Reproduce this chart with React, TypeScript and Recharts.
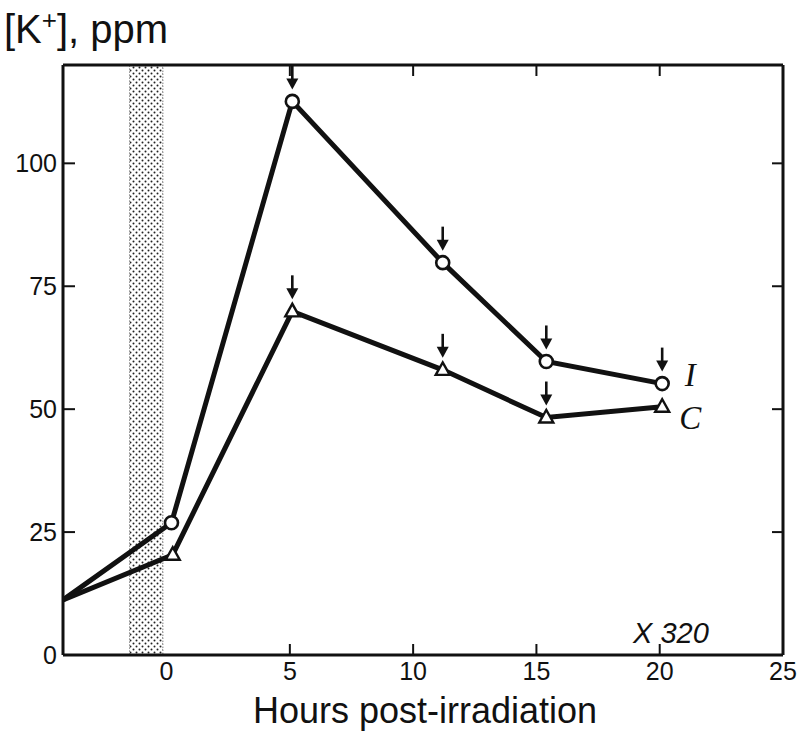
import React from "react";
import {
  LineChart,
  Line,
  XAxis,
  YAxis,
  ReferenceArea,
} from "recharts";

// hours post-irradiation
const iHours = [-4.2, 0.2, 5.1, 11.2, 15.4, 20.1];
const iValues = [11.2, 26.9, 112.6, 79.8, 59.7, 55.2];
const iArrows = [false, false, true, true, true, true];

const cHours = [-4.2, 0.25, 5.1, 11.2, 15.4, 20.1];
const cValues = [11.2, 20.4, 69.9, 58.0, 48.3, 50.5];
const cArrows = [false, false, true, true, true, false];

const xTicks = [0, 5, 10, 15, 20, 25];
const yTicks = [0, 25, 50, 75, 100];
const irradiation = [-1.5, -0.15];

const iData = iHours.map((h, i) => ({ h, v: iValues[i], arrow: iArrows[i] }));
const cData = cHours.map((h, i) => ({ h, v: cValues[i], arrow: cArrows[i] }));

const INK = "#111";
const LABEL_FONT = "'Liberation Sans', Arial, sans-serif";

function Arrow({ x, y }: { x: number; y: number }) {
  // down arrow, tip at y
  return (
    <g>
      <line x1={x} y1={y - 24} x2={x} y2={y - 9} stroke={INK} strokeWidth={2.6} />
      <polygon points={`${x - 6},${y - 11} ${x + 6},${y - 11} ${x},${y}`} fill={INK} />
    </g>
  );
}

function makeDot(kind: "circle" | "triangle", endLabel: string) {
  return (props: any) => {
    const { cx, cy, index, payload } = props;
    if (index === 0 || cx == null) return <g key={`d-${kind}-${index}`} />;
    const last = index === iData.length - 1;
    return (
      <g key={`d-${kind}-${index}`}>
        {kind === "circle" ? (
          <circle cx={cx} cy={cy} r={6.5} fill="#fff" stroke={INK} strokeWidth={2.6} />
        ) : (
          <polygon
            points={`${cx - 7},${cy + 5} ${cx + 7},${cy + 5} ${cx},${cy - 7.5}`}
            fill="#fff"
            stroke={INK}
            strokeWidth={2.4}
            strokeLinejoin="miter"
          />
        )}
        {payload.arrow && <Arrow x={cx} y={cy - 12} />}
        {last && (
          <text
            x={cx + 28}
            y={kind === "circle" ? cy - 9 : cy + 11}
            textAnchor="middle"
            dominantBaseline="central"
            fontFamily="'Liberation Serif', serif"
            fontStyle="italic"
            fontSize={33}
            fill={INK}
          >
            {endLabel}
          </text>
        )}
      </g>
    );
  };
}

const tickDrawn = (v: number) => v !== 0 && v !== 25;
const yTickDrawn = (v: number) => v !== 0;

function BottomTick(props: any) {
  const { x, y, payload } = props;
  const v = payload.value;
  return (
    <g>
      {tickDrawn(v) && <line x1={x} y1={y} x2={x} y2={y - 11} stroke={INK} strokeWidth={2} />}
      <text x={x} y={y + 25} textAnchor="middle" fontFamily={LABEL_FONT} fontSize={25} fill={INK}>
        {v}
      </text>
    </g>
  );
}

function TopTick(props: any) {
  const { x, y, payload } = props;
  if (!tickDrawn(payload.value)) return <g />;
  return <line x1={x} y1={y} x2={x} y2={y + 11} stroke={INK} strokeWidth={2} />;
}

function LeftTick(props: any) {
  const { x, y, payload } = props;
  const v = payload.value;
  return (
    <g>
      {yTickDrawn(v) && <line x1={x} y1={y} x2={x + 12} y2={y} stroke={INK} strokeWidth={2} />}
      <text
        x={x - 6}
        y={y}
        textAnchor="end"
        dominantBaseline="central"
        fontFamily={LABEL_FONT}
        fontSize={25}
        fill={INK}
      >
        {v}
      </text>
    </g>
  );
}

function RightTick(props: any) {
  const { x, y, payload } = props;
  if (!yTickDrawn(payload.value)) return <g />;
  return <line x1={x} y1={y} x2={x - 11} y2={y} stroke={INK} strokeWidth={2} />;
}

const axisLine = { stroke: INK, strokeWidth: 3 };

export default function App() {
  return (
    <div style={{ position: "absolute", left: 0, top: 0, width: 804, height: 739, background: "#fff" }}>
      <div
        style={{
          position: "absolute",
          left: 4,
          top: 5,
          fontFamily: LABEL_FONT,
          fontSize: 40,
          color: INK,
          whiteSpace: "nowrap",
        }}
      >
        [K<sup style={{ fontSize: 26, verticalAlign: "0.55em" }}>+</sup>], ppm
      </div>
      <LineChart
        width={804}
        height={739}
        margin={{ top: 64, right: 20, bottom: 83, left: 62 }}
      >
        <defs>
          <pattern id="stipple" width="6" height="6" patternUnits="userSpaceOnUse">
            <rect width="6" height="6" fill="#fff" />
            <circle cx="1.5" cy="1.5" r="1" fill="#222" />
            <circle cx="4.5" cy="4.5" r="1" fill="#222" />
          </pattern>
        </defs>
        <XAxis
          dataKey="h"
          type="number"
          domain={[-4.2, 25]}
          ticks={xTicks}
          allowDataOverflow
          height={1}
          tickSize={0}
          tickMargin={0}
          tickLine={false}
          axisLine={axisLine}
          tick={<BottomTick />}
          interval={0}
        />
        <XAxis
          xAxisId="top"
          orientation="top"
          dataKey="h"
          type="number"
          domain={[-4.2, 25]}
          ticks={xTicks}
          allowDataOverflow
          height={1}
          tickSize={0}
          tickMargin={0}
          tickLine={false}
          axisLine={axisLine}
          tick={<TopTick />}
          interval={0}
        />
        <YAxis
          type="number"
          domain={[0, 120]}
          ticks={yTicks}
          allowDataOverflow
          width={1}
          tickSize={0}
          tickMargin={0}
          tickLine={false}
          axisLine={axisLine}
          tick={<LeftTick />}
          interval={0}
        />
        <YAxis
          yAxisId="right"
          orientation="right"
          type="number"
          domain={[0, 120]}
          ticks={yTicks}
          allowDataOverflow
          width={1}
          tickSize={0}
          tickMargin={0}
          tickLine={false}
          axisLine={axisLine}
          tick={<RightTick />}
          interval={0}
        />
        <ReferenceArea
          x1={irradiation[0]}
          x2={irradiation[1]}
          y1={0}
          y2={120}
          fill="url(#stipple)"
          fillOpacity={1}
          stroke="#444"
          strokeWidth={1}
          strokeDasharray="1 2"
        />
        <Line
          data={iData}
          dataKey="v"
          type="linear"
          stroke={INK}
          strokeWidth={5}
          dot={makeDot("circle", "I")}
          activeDot={false}
          isAnimationActive={false}
        />
        <Line
          data={cData}
          dataKey="v"
          type="linear"
          stroke={INK}
          strokeWidth={5}
          dot={makeDot("triangle", "C")}
          activeDot={false}
          isAnimationActive={false}
        />
      </LineChart>
      <div
        style={{
          position: "absolute",
          left: 633,
          top: 617,
          fontFamily: LABEL_FONT,
          fontStyle: "italic",
          fontSize: 29,
          color: INK,
        }}
      >
        X 320
      </div>
      <div
        style={{
          position: "absolute",
          left: 0,
          width: 850,
          top: 690,
          textAlign: "center",
          fontFamily: LABEL_FONT,
          fontSize: 36,
          color: INK,
        }}
      >
        Hours post-irradiation
      </div>
    </div>
  );
}
